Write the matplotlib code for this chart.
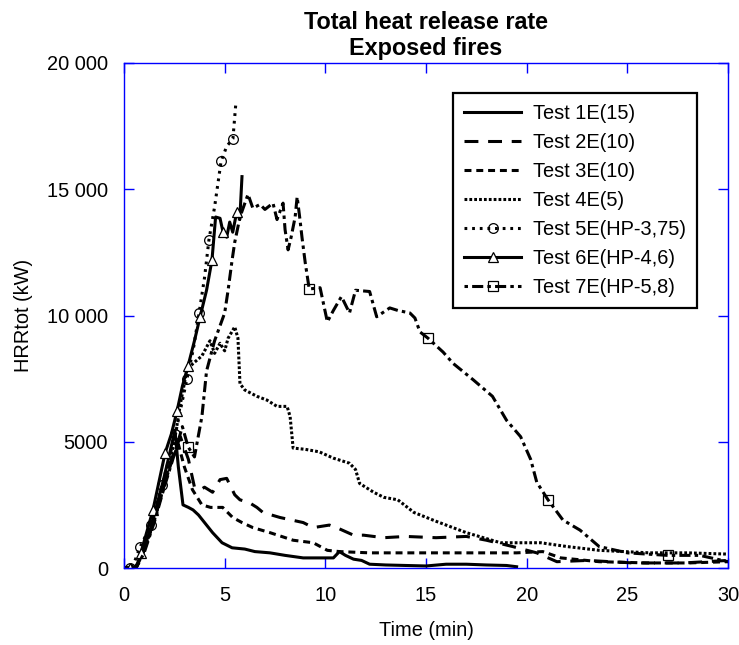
import numpy as np
import matplotlib
matplotlib.use("Agg")
import matplotlib.pyplot as plt
from matplotlib.ticker import FuncFormatter

plt.rcParams['font.family'] = ['Liberation Sans', 'DejaVu Sans']
plt.rcParams['lines.scale_dashes'] = False

# --- data (time in min, HRR in kW) ---
t1 = [0, 0.5, 0.7, 1.0, 1.3, 1.6, 1.9, 2.2, 2.4, 2.53, 2.7, 2.93, 3.2, 3.43, 3.7, 4.0, 4.4,
      4.87, 5.37, 6.0, 6.5, 7.25, 8.0, 8.9, 9.6, 10.4, 10.7, 11.0, 11.4, 11.8, 12.2, 13.0,
      14.0, 15.0, 16.0, 17.0, 18.0, 19.0, 19.5]
v1 = [0, 0, 200, 800, 1500, 2400, 3300, 4300, 5000, 5450, 4000, 2500, 2400, 2300, 2100, 1800, 1400,
      1000, 800, 750, 650, 600, 500, 400, 400, 400, 650, 500, 350, 300, 150, 120,
      100, 80, 150, 150, 120, 100, 50]

t2 = [0, 0.6, 1.0, 1.5, 2.0, 2.4, 2.8, 3.2, 3.5, 3.8, 4.0, 4.4, 4.77, 5.1, 5.5, 5.76, 6.2, 6.6,
      6.9, 7.75, 8.9, 9.4, 10.2, 10.7, 11.4, 11.9, 12.9, 14.0, 15.5, 17.0, 18.0, 19.3, 20.5,
      21.5, 23.0, 25.3, 27.8, 30]
v2 = [0, 0, 700, 1900, 3300, 4400, 5200, 4300, 3200, 3100, 3200, 3000, 3500, 3550, 2900, 2700, 2600, 2400,
      2200, 2000, 1800, 1600, 1700, 1550, 1300, 1300, 1200, 1250, 1200, 1250, 1100, 850, 600,
      250, 300, 200, 200, 300]

t3 = [0, 0.6, 1.0, 1.5, 2.0, 2.4, 2.7, 3.0, 3.4, 3.87, 4.3, 4.9, 5.4, 5.86, 6.4, 7.25, 8.4, 9.4,
      10.1, 10.7, 12.2, 14.0, 16.0, 18.0, 19.5, 20.8, 21.7, 23.6, 26.0, 28.0, 30]
v3 = [0, 0, 700, 1900, 3300, 4300, 4900, 4000, 3100, 2500, 2400, 2400, 2000, 1800, 1600, 1400, 1100, 1000,
      700, 650, 600, 600, 600, 600, 600, 650, 400, 250, 200, 200, 250]

t4 = [0, 0.6, 1.0, 1.5, 2.0, 2.5, 2.8, 3.13, 3.43, 3.87, 4.27, 4.5, 4.77, 5.0, 5.17, 5.5, 5.66,
      5.76, 6.0, 6.6, 7.1, 7.6, 8.1, 8.25, 8.4, 9.0, 9.7, 10.4, 11.2, 11.5, 11.7, 12.4, 12.9,
      13.6, 14.4, 15.5, 17.0, 18.7, 20.7, 22.0, 23.6, 26.1, 28.0, 30]
v4 = [0, 0, 700, 1900, 3300, 5000, 6500, 7850, 8100, 8400, 9000, 8500, 8900, 8600, 9100, 9550, 9100,
      7300, 7050, 6800, 6650, 6400, 6400, 6000, 4750, 4700, 4600, 4350, 4150, 3900, 3350, 3000, 2800,
      2700, 2200, 1850, 1400, 1000, 1000, 850, 700, 600, 600, 550]

t5 = [0, 0.3, 0.5, 0.8, 1.34, 1.9, 2.55, 3.13, 3.45, 3.73, 4.0, 4.22, 4.5, 4.82, 5.1, 5.41, 5.56]
v5 = [0, 0, 200, 830, 1700, 3300, 5300, 7500, 8700, 10100, 11500, 13000, 14300, 16100, 16700, 17000, 18450]
mk5 = [0.3, 0.8, 1.34, 1.9, 2.55, 3.13, 3.73, 4.22, 4.82, 5.41]

t6 = [0, 0.3, 0.6, 0.84, 1.44, 2.04, 2.35, 2.63, 2.9, 3.18, 3.5, 3.78, 4.1, 4.37, 4.55, 4.77,
      4.92, 5.1, 5.25, 5.4, 5.6, 5.75, 5.86]
v6 = [0, 0, 0, 600, 2300, 4550, 5300, 6200, 7200, 8000, 9000, 9950, 11000, 12200, 13900, 13850,
      13300, 13100, 13700, 13300, 14100, 13800, 15500]
mk6 = [0.3, 0.84, 1.44, 2.04, 2.63, 3.18, 3.78, 4.37, 4.92, 5.6]

t7 = [0, 0.6, 1.0, 1.5, 2.0, 2.5, 2.9, 3.18, 3.5, 3.87, 4.1, 4.5, 5.0, 5.17, 5.37, 5.5, 5.76,
      6.16, 6.4, 6.76, 7.0, 7.4, 7.6, 7.9, 8.0, 8.15, 8.3, 8.5, 8.6, 8.74, 8.84, 9.0, 9.2, 9.74,
      10.1, 10.4, 10.8, 11.2, 11.5, 12.2, 12.55, 13.2, 13.6, 14.2, 14.45, 14.7, 15.1, 15.85,
      16.35, 17.35, 18.3, 19.0, 19.7, 20.2, 20.5, 21.06, 21.8, 22.65, 23.6, 25.0, 27.0, 28.6, 30]
v7 = [0, 0, 600, 1800, 3200, 4500, 5600, 4800, 4400, 6000, 7800, 9000, 10100, 11000, 12200, 12900, 13900,
      14800, 14250, 14400, 14200, 14450, 13800, 14450, 13400, 12600, 13100, 13900, 14700, 13800, 13100, 12100, 11050, 11100,
      9750, 10200, 10750, 10100, 11000, 10950, 9950, 10300, 10200, 10100, 9900, 9350, 9100, 8550,
      8100, 7450, 6800, 5850, 5200, 4300, 3400, 2700, 1900, 1500, 850, 600, 500, 500, 250]
mk7 = [3.18, 9.2, 15.1, 21.06, 27.0]

labels = ['Test 1E(15)', 'Test 2E(10)', 'Test 3E(10)', 'Test 4E(5)',
          'Test 5E(HP-3,75)', 'Test 6E(HP-4,6)', 'Test 7E(HP-5,8)']


def kw_fmt(v, pos):
    v = int(round(v))
    if v >= 10000:
        return '{:,}'.format(v).replace(',', ' ')
    return str(v)


fs = 14.4
fig = plt.figure(figsize=(7.39, 6.45), dpi=100)
ax = fig.add_axes([124 / 739, 77 / 645, 604 / 739, 505 / 645])

lw = 2.2
ax.plot(t1, v1, color='k', lw=lw, label=labels[0])
ax.plot(t2, v2, color='k', lw=lw, dashes=(10, 7), label=labels[1])
ax.plot(t3, v3, color='k', lw=lw, dashes=(5, 3.5), label=labels[2])
ax.plot(t4, v4, color='k', lw=lw, dashes=(2, 1.5), label=labels[3])
ax.plot(t5, v5, color='k', lw=lw, dashes=(2, 3.5), marker='o', ms=7, mfc='none', mec='k', mew=0.9,
        markevery=[t5.index(m) for m in mk5], label=labels[4])
ax.plot(t6, v6, color='k', lw=lw, marker='^', ms=7, mfc='white', mec='k', mew=0.9,
        markevery=[t6.index(m) for m in mk6], label=labels[5])
ax.plot(t7, v7, color='k', lw=lw, dashes=(2.5, 3, 8, 3), marker='s', ms=7, mfc='none', mec='k', mew=0.9,
        markevery=[t7.index(m) for m in mk7], label=labels[6])

ax.set_xlim(0, 30)
ax.set_ylim(0, 20000)
ax.set_xticks([0, 5, 10, 15, 20, 25, 30])
ax.set_yticks([0, 5000, 10000, 15000, 20000])
ax.yaxis.set_major_formatter(FuncFormatter(kw_fmt))

for s in ax.spines.values():
    s.set_color('#0000ff')
    s.set_linewidth(1.0)
ax.tick_params(direction='in', length=7.5, width=1, color='#0000ff',
               top=True, right=True, labelsize=fs)
ax.tick_params(axis='x', pad=13)
ax.tick_params(axis='y', pad=11.5)

ax.set_xlabel('Time (min)', fontsize=fs, labelpad=11.5)
ax.set_ylabel('HRRtot (kW)', fontsize=fs, labelpad=10)
ax.set_title('Total heat release rate\nExposed fires', fontsize=16.8, fontweight='bold',
             pad=6, linespacing=1.15)

leg = ax.legend(loc='upper left', bbox_to_anchor=(0.545, 0.941), fontsize=fs, frameon=True,
                fancybox=False, edgecolor='k', framealpha=1, handlelength=2.85,
                labelspacing=0.5, borderpad=0.55, handletextpad=0.6, borderaxespad=0)
leg.get_frame().set_linewidth(1.6)

fig.savefig('out.png', dpi=100)
